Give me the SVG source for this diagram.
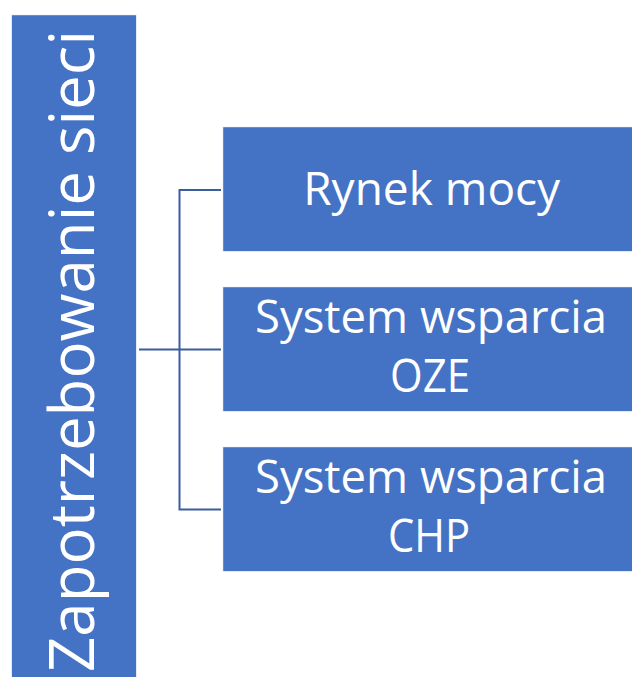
<svg xmlns="http://www.w3.org/2000/svg" width="632" height="677" viewBox="0 0 632 677">
  <style>
    .box { fill: #4472C4; stroke: #ffffff; stroke-width: 1; }
    .lbl { font-family: "Open Sans", "Liberation Sans", sans-serif; fill: #ffffff; font-size: 45px; text-anchor: middle; }
    .big { font-family: "Open Sans", "Liberation Sans", sans-serif; fill: #ffffff; font-size: 63px; }
    .conn { fill: none; stroke: #3A5DA0; stroke-width: 2; }
  </style>
  <rect width="632" height="677" fill="#ffffff"/>

  <g id="root">
    <rect class="box" x="11.3" y="14.7" width="125.4" height="680"/>
    <text class="big" transform="translate(94,672) rotate(-90)" x="0" y="0" textLength="642" lengthAdjust="spacingAndGlyphs">Zapotrzebowanie sieci</text>
  </g>

  <g id="connectors">
    <path class="conn" d="M139 349.5 H221"/>
    <path class="conn" d="M221 190 H179.5 V509.5 H221"/>
  </g>

  <g id="rynek-mocy">
    <rect class="box" x="222.7" y="126.7" width="420" height="125"/>
    <text class="lbl" x="431.7" y="205" textLength="257" lengthAdjust="spacingAndGlyphs">Rynek mocy</text>
  </g>

  <g id="oze">
    <rect class="box" x="222.7" y="286.7" width="420" height="125"/>
    <text class="lbl" x="431" y="333.3" textLength="352" lengthAdjust="spacingAndGlyphs">System wsparcia</text>
    <text class="lbl" x="430" y="391.7" textLength="80" lengthAdjust="spacingAndGlyphs">OZE</text>
  </g>

  <g id="chp">
    <rect class="box" x="222.7" y="446.7" width="420" height="125"/>
    <text class="lbl" x="431" y="493.3" textLength="352" lengthAdjust="spacingAndGlyphs">System wsparcia</text>
    <text class="lbl" x="429" y="551.7" textLength="82" lengthAdjust="spacingAndGlyphs">CHP</text>
  </g>
</svg>
